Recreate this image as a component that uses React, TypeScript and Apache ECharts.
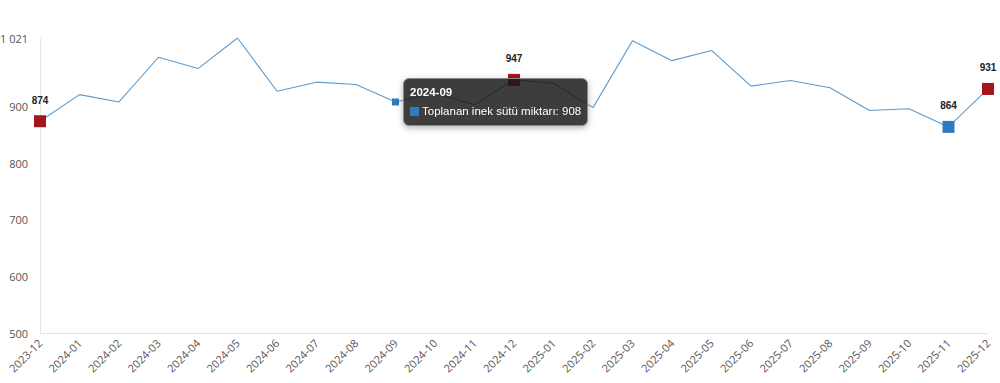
import React, { useEffect, useRef } from "react";
import * as echarts from "echarts";

const categories = [
  "2023-12", "2024-01", "2024-02", "2024-03", "2024-04", "2024-05", "2024-06",
  "2024-07", "2024-08", "2024-09", "2024-10", "2024-11", "2024-12", "2025-01",
  "2025-02", "2025-03", "2025-04", "2025-05", "2025-06", "2025-07", "2025-08",
  "2025-09", "2025-10", "2025-11", "2025-12",
];
const values = [
  874, 921, 908, 987, 967, 1021, 927, 943, 939, 908, 923, 903, 947, 941,
  898, 1016, 981, 999, 936, 946, 933, 893, 896, 864, 931,
];
const seriesName = "Toplanan inek sütü miktarı";
const yTicks = [500, 600, 700, 800, 900, 1021];
const highlightRed = [0, 12, 24];
const highlightBlue = [23];
const hoverIndex = 9;

const fmt = (v: number) => String(v).replace(/\B(?=(\d{3})+(?!\d))/g, " ");

export default function App() {
  const ref = useRef<HTMLDivElement>(null);
  useEffect(() => {
    if (!ref.current) return;
    document.body.style.margin = "0";
    const chart = echarts.init(ref.current, null, { renderer: "svg" });
    const markerData = [
      ...highlightRed.map((i) => ({
        value: [categories[i], values[i]],
        itemStyle: { color: "#a3161f", opacity: 1 },
      })),
      ...highlightBlue.map((i) => ({
        value: [categories[i], values[i]],
        itemStyle: { color: "#2f7bbf", opacity: 1 },
      })),
    ];
    chart.setOption({
      animation: false,
      grid: {
        left: 40,
        right: 12,
        top: 38,
        bottom: 50,
        containLabel: false,
        outerBoundsMode: "none",
      },
      tooltip: {
        trigger: "item",
        triggerOn: "none",
        alwaysShowContent: true,
        transitionDuration: 0,
        backgroundColor: "rgba(24,24,24,0.84)",
        borderColor: "#8a8a8a",
        borderWidth: 1,
        borderRadius: 6,
        padding: [4, 6, 4, 6],
        extraCssText: "box-shadow:0 2px 6px rgba(0,0,0,0.3);",
        position: () => [403, 78],
        formatter: (p: any) =>
          `<div style="font-family:'Liberation Sans',Arial,sans-serif;color:#fff;line-height:19px">` +
          `<div style="font-weight:bold;font-size:11.5px">${p.value[0]}</div>` +
          `<div style="font-size:11.5px"><span style="display:inline-block;width:9px;height:9px;background:#2f7bbf;margin-right:3px;vertical-align:-1px"></span>${p.seriesName}: ${p.value[1]}</div></div>`,
      },
      xAxis: {
        type: "category",
        data: categories,
        boundaryGap: false,
        axisLine: { show: true, lineStyle: { color: "#e3e3e3" } },
        axisTick: { show: false },
        axisLabel: {
          rotate: 45,
          interval: 0,
          color: "#555",
          fontSize: 11,
          fontFamily: "Open Sans",
          margin: 8,
        },
        splitLine: { show: false },
      },
      yAxis: {
        type: "value",
        min: 500,
        max: 1021,
        axisLine: { show: true, lineStyle: { color: "#e8e8e8" } },
        axisTick: { show: false },
        splitLine: { show: false },
        axisLabel: {
          customValues: yTicks,
          color: "#555",
          fontSize: 11,
          fontFamily: "Open Sans",
          margin: 12,
          formatter: (v: number) => fmt(v),
        },
      },
      series: [
        {
          type: "line",
          name: seriesName,
          data: values,
          showSymbol: false,
          symbol: "rect",
          lineStyle: { color: "#5b9bd0", width: 1.1 },
          itemStyle: { color: "#2f7bbf" },
          z: 2,
        },
        {
          type: "scatter",
          name: seriesName,
          data: markerData,
          symbol: "rect",
          symbolSize: 12,
          z: 3,
          label: {
            show: true,
            position: "top",
            distance: 10,
            color: "#222",
            fontSize: 10,
            fontWeight: "bold",
            fontFamily: "Liberation Sans",
            formatter: (p: any) => String(p.value[1]),
          },
        },
        {
          type: "scatter",
          name: seriesName,
          data: [[categories[hoverIndex], values[hoverIndex]]],
          symbol: "rect",
          symbolSize: 7,
          itemStyle: { color: "#2f7bbf", opacity: 1 },
          z: 4,
        },
      ],
    });
    chart.dispatchAction({ type: "showTip", seriesIndex: 2, dataIndex: 0 });
    return () => chart.dispose();
  }, []);
  return <div ref={ref} style={{ width: 1000, height: 383 }} />;
}
